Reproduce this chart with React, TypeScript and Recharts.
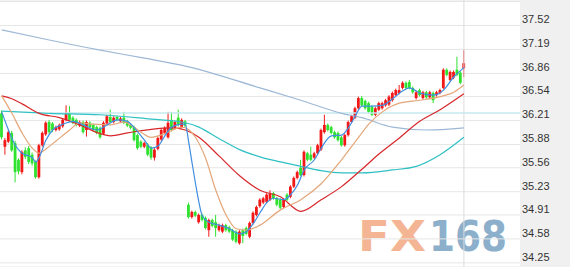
import React from "react";
import {
    ComposedChart,
    Bar,
    Line,
    XAxis,
    YAxis,
    CartesianGrid,
    ReferenceLine
} from "recharts";

// candles, oldest first (red = up, green = down)
const opens = [
    36.31, 35.85, 35.92, 36.04, 35.90, 35.67, 35.50, 35.80, 35.83, 35.74,
    35.64, 35.43, 35.87, 36.02, 36.19, 36.17, 36.08, 36.09, 36.13, 36.22,
    36.32, 36.25, 36.22, 36.14, 36.19, 36.08, 36.18, 36.15, 36.12, 36.11,
    36.03, 36.17, 36.26, 36.19, 36.26, 36.20, 36.25, 36.20, 36.15, 36.12,
    36.01, 35.92, 35.85, 35.88, 35.84, 35.70, 35.82, 35.95, 36.04, 35.98,
    36.22, 36.11, 36.25, 36.12, 36.20, 35.05, 34.88, 34.95, 34.81, 34.91,
    34.87, 34.70, 34.84, 34.81, 34.70, 34.68, 34.77, 34.74, 34.70, 34.68,
    34.52, 34.70, 34.73, 34.61, 34.80, 34.91, 35.03, 35.08, 35.09, 35.12,
    35.21, 35.14, 35.12, 35.02, 35.19, 35.16, 35.30, 35.42, 35.56, 35.46,
    35.76, 35.74, 35.70, 35.76, 35.81, 36.05, 36.15, 36.12, 36.05, 36.04,
    35.98, 35.87, 36.01, 36.19, 36.25, 36.38, 36.52, 36.48, 36.45, 36.40,
    36.29, 36.36, 36.38, 36.42, 36.43, 36.49, 36.56, 36.59, 36.66, 36.73,
    36.74, 36.66, 36.52, 36.63, 36.52, 36.60, 36.53, 36.59, 36.56, 36.59,
    36.66, 36.91, 36.77, 36.80, 36.91, 36.87, 36.93
];
const highs = [
    36.35, 35.97, 36.08, 36.07, 35.93, 35.69, 35.80, 35.84, 35.86, 35.77,
    35.66, 35.89, 36.06, 36.20, 36.22, 36.19, 36.14, 36.17, 36.24, 36.42,
    36.41, 36.27, 36.24, 36.21, 36.21, 36.21, 36.20, 36.17, 36.14, 36.13,
    36.20, 36.29, 36.36, 36.27, 36.28, 36.26, 36.33, 36.22, 36.17, 36.14,
    36.03, 35.94, 35.92, 35.90, 35.86, 35.83, 35.99, 36.10, 36.13, 36.33,
    36.33, 36.21, 36.36, 36.24, 36.22, 35.08, 34.97, 34.97, 34.93, 34.93,
    34.89, 34.86, 34.86, 34.91, 34.79, 34.79, 34.79, 34.76, 34.72, 34.70,
    34.70, 34.72, 34.75, 34.82, 34.96, 35.04, 35.14, 35.16, 35.21, 35.25,
    35.23, 35.16, 35.14, 35.14, 35.21, 35.32, 35.44, 35.52, 35.67, 35.80,
    35.78, 35.85, 35.78, 35.89, 36.10, 36.29, 36.17, 36.14, 36.07, 36.06,
    36.00, 36.03, 36.21, 36.29, 36.40, 36.54, 36.55, 36.50, 36.47, 36.42,
    36.40, 36.47, 36.47, 36.51, 36.56, 36.61, 36.65, 36.70, 36.75, 36.75,
    36.77, 36.68, 36.62, 36.65, 36.62, 36.62, 36.62, 36.61, 36.62, 36.65,
    36.93, 36.93, 36.90, 36.90, 37.09, 36.89, 37.18
];
const lows = [
    35.95, 35.74, 35.90, 35.78, 35.36, 35.47, 35.47, 35.68, 35.61, 35.59,
    35.41, 35.41, 35.85, 36.00, 36.03, 36.05, 36.06, 36.07, 36.11, 36.20,
    36.20, 36.16, 36.13, 36.12, 36.03, 35.99, 36.10, 36.06, 36.02, 35.96,
    36.01, 36.15, 36.17, 36.17, 36.20, 36.18, 36.16, 36.12, 36.09, 35.92,
    35.81, 35.83, 35.83, 35.72, 35.67, 35.66, 35.80, 35.93, 36.02, 35.96,
    36.06, 36.09, 36.13, 36.10, 36.12, 34.86, 34.86, 34.88, 34.79, 34.82,
    34.71, 34.61, 34.74, 34.61, 34.68, 34.66, 34.68, 34.66, 34.55, 34.52,
    34.50, 34.52, 34.63, 34.59, 34.78, 34.89, 35.01, 35.06, 35.07, 35.10,
    35.12, 35.03, 34.99, 35.00, 35.10, 35.14, 35.28, 35.40, 35.44, 35.44,
    35.65, 35.65, 35.68, 35.74, 35.79, 36.03, 36.06, 36.02, 35.96, 35.92,
    35.85, 35.85, 35.99, 36.17, 36.23, 36.36, 36.40, 36.36, 36.31, 36.27,
    36.27, 36.34, 36.36, 36.40, 36.41, 36.47, 36.54, 36.57, 36.64, 36.64,
    36.64, 36.58, 36.50, 36.54, 36.50, 36.51, 36.51, 36.45, 36.54, 36.57,
    36.64, 36.82, 36.75, 36.78, 36.82, 36.71, 36.81
];
const closes = [
    35.98, 35.94, 36.05, 35.80, 35.50, 35.51, 35.78, 35.71, 35.64, 35.62,
    35.43, 35.87, 36.04, 36.18, 36.05, 36.08, 36.12, 36.15, 36.22, 36.32,
    36.22, 36.18, 36.15, 36.19, 36.05, 36.19, 36.12, 36.08, 36.04, 35.98,
    36.18, 36.27, 36.19, 36.25, 36.22, 36.24, 36.18, 36.14, 36.11, 35.94,
    35.83, 35.85, 35.90, 35.74, 35.70, 35.81, 35.97, 36.08, 36.11, 36.18,
    36.08, 36.19, 36.15, 36.22, 36.14, 34.88, 34.95, 34.90, 34.91, 34.84,
    34.73, 34.84, 34.76, 34.73, 34.77, 34.77, 34.70, 34.68, 34.57, 34.54,
    34.68, 34.62, 34.65, 34.80, 34.94, 35.02, 35.12, 35.14, 35.19, 35.21,
    35.14, 35.05, 35.01, 35.12, 35.12, 35.30, 35.42, 35.50, 35.46, 35.78,
    35.67, 35.67, 35.76, 35.87, 36.08, 36.15, 36.08, 36.04, 35.98, 35.94,
    35.87, 36.01, 36.19, 36.27, 36.38, 36.52, 36.42, 36.38, 36.33, 36.29,
    36.38, 36.45, 36.45, 36.49, 36.54, 36.59, 36.63, 36.63, 36.73, 36.66,
    36.66, 36.60, 36.60, 36.56, 36.60, 36.53, 36.60, 36.49, 36.60, 36.63,
    36.91, 36.84, 36.88, 36.88, 36.84, 36.73, 37.00
];

// moving averages as [candle index, value]
const ma5 = [
    [0, 36.33], [2, 36.08], [4, 35.87], [6, 35.76], [9, 35.70], [10, 35.64], [11, 35.70],
    [13, 35.94], [15, 36.08], [18, 36.16], [21, 36.2], [24, 36.15], [28, 36.08], [31, 36.15],
    [34, 36.22], [37, 36.2], [39, 36.11], [42, 35.94], [44, 35.83], [46, 35.86], [48, 36.0],
    [50, 36.12], [53, 36.16], [54, 36.16], [55, 35.92], [56, 35.63], [57, 35.35], [58, 35.09],
    [59, 34.9], [61, 34.81], [64, 34.77], [67, 34.72], [70, 34.65], [72, 34.68], [74, 34.79],
    [76, 34.94], [78, 35.08], [80, 35.14], [83, 35.12], [85, 35.19], [87, 35.32], [89, 35.53],
    [92, 35.67], [94, 35.83], [97, 36.0], [100, 36.01], [102, 36.11], [104, 36.27], [106, 36.41],
    [109, 36.41], [112, 36.42], [115, 36.51], [118, 36.62], [120, 36.66], [123, 36.59],
    [127, 36.56], [130, 36.63], [133, 36.81], [136, 36.94]
];
const ma10 = [
    [0, 36.55], [3, 36.31], [6, 36.04], [9, 35.83], [11, 35.76], [13, 35.82], [16, 35.93],
    [20, 36.08], [23, 36.18], [27, 36.16], [32, 36.15], [36, 36.19], [41, 36.05], [44, 35.98],
    [48, 36.03], [53, 36.12], [57, 35.98], [60, 35.69], [63, 35.25], [66, 34.91], [69, 34.72],
    [72, 34.7], [76, 34.77], [82, 34.98], [88, 35.12], [94, 35.34], [100, 35.67], [105, 35.98],
    [108, 36.16], [112, 36.33], [117, 36.45], [123, 36.49], [129, 36.54], [133, 36.6], [136, 36.7]
];
const ma20 = [
    [0, 36.55], [3, 36.51], [6, 36.44], [11, 36.31], [17, 36.25], [23, 36.15], [29, 36.03],
    [32, 36.0], [37, 36.04], [44, 36.09], [50, 36.11], [54, 36.08], [58, 35.98], [64, 35.72],
    [70, 35.45], [76, 35.25], [82, 35.16], [88, 34.96], [94, 35.12], [100, 35.3], [106, 35.54],
    [111, 35.75], [117, 35.97], [123, 36.2], [129, 36.36], [136, 36.58]
];
const ma30 = [
    [0, 36.34], [14, 36.31], [29, 36.29], [44, 36.23], [53, 36.19], [58, 36.12], [64, 35.96],
    [70, 35.81], [76, 35.71], [82, 35.64], [88, 35.58], [94, 35.52], [100, 35.49], [106, 35.49],
    [115, 35.53], [122, 35.58], [129, 35.74], [136, 35.98]
];
const ma60 = [
    [0, 37.46], [14, 37.32], [29, 37.18], [42, 37.07], [55, 36.95], [76, 36.66], [88, 36.49],
    [100, 36.31], [106, 36.25], [115, 36.12], [125, 36.08], [136, 36.11]
];

const priceTicks = [37.85, 37.52, 37.19, 36.86, 36.54, 36.21, 35.88, 35.56, 35.23, 34.91, 34.58, 34.25];
const crossPrice = 36.315;
const slots = 153; // candles plus empty space up to the axis

const pick = (pts: number[][], i: number) => {
    const p = pts.find(q => q[0] === i);
    return p ? p[1] : null;
};

const rows = Array.from({ length: slots }, (_, i) => ({
    i,
    range: i < closes.length ? [lows[i], highs[i]] : null,
    open: opens[i],
    close: closes[i],
    ma5: pick(ma5, i),
    ma10: pick(ma10, i),
    ma20: pick(ma20, i),
    ma30: pick(ma30, i),
    ma60: pick(ma60, i)
}));

const Candle = (props: any) => {
    const { x, y, width, height, payload } = props;
    if (!payload || !payload.range) return <g />;
    const [lo, hi] = payload.range;
    const top = Math.min(y, y + height);
    const h = Math.abs(height);
    const k = hi > lo ? h / (hi - lo) : 0;
    const yOf = (v: number) => top + (hi - v) * k;
    const up = payload.close >= payload.open;
    const color = up ? "#f21818" : "#2fe22f";
    const bTop = yOf(Math.max(payload.open, payload.close));
    const bBot = yOf(Math.min(payload.open, payload.close));
    const cx = x + width / 2;
    const bw = Math.max(1, width - 0.2);
    return (
        <g>
            <line x1={cx} x2={cx} y1={top} y2={top + h} stroke={color} strokeWidth={1} />
            <rect x={cx - bw / 2} y={bTop} width={bw} height={Math.max(1, bBot - bTop)} fill={color} />
        </g>
    );
};

// no point markers on the averages
const NoDot = (props: any) => <g key={`nd-${props.index}`} />;

const PriceTick = (props: any) => {
    const { x, y, payload } = props;
    if (payload.value > 37.7) return <g />;
    return (
        <text x={x - 6} y={y - 6} dy="0.35em" textAnchor="start" fill="#333"
            fontSize={11} fontFamily="'Liberation Sans', Arial, sans-serif">
            {payload.value.toFixed(2)}
        </text>
    );
};

const App: React.FC = () => {
    return (
        <div style={{ position: "relative", width: 570, height: 267, background: "#fff", overflow: "hidden" }}>
            <style>{"body{margin:0}"}</style>
            <div style={{ position: "absolute", left: 520, top: 0, width: 50, height: 267, background: "#f0f0f0" }} />
            <svg width={570} height={267} style={{ position: "absolute", left: 0, top: 0 }}>
                <text x={358} y={251} fontSize={42} fontWeight="bold" fontFamily="'DejaVu Sans', sans-serif"
                    fill="#f2a982" opacity={0.85} textLength={68} lengthAdjust="spacingAndGlyphs">FX</text>
                <text x={429} y={251} fontSize={42} fontWeight="bold" fontFamily="'DejaVu Sans', sans-serif"
                    fill="#79a2c2" opacity={0.85} textLength={78} lengthAdjust="spacingAndGlyphs">168</text>
            </svg>
            <div style={{ position: "absolute", left: 0, top: 0 }}>
                <ComposedChart width={570} height={267} data={rows} barCategoryGap={0}
                    margin={{ top: 0, right: 0, left: 0, bottom: 0 }}>
                    <CartesianGrid vertical={false} stroke="#e6e6e6" />
                    <XAxis dataKey="i" hide />
                    <YAxis orientation="right" width={50} type="number" domain={[34.193, 37.871]}
                        ticks={priceTicks} interval={0} allowDataOverflow axisLine={false}
                        tickLine={false} tick={<PriceTick />} />
                    <ReferenceLine y={crossPrice} stroke="#c6eaf0" strokeWidth={1.5}
                        shape={(p: any) => (
                            <line x1={p.x1} y1={p.y1} x2={p.x2 + 50} y2={p.y2} stroke="#c6eaf0" strokeWidth={1.5} />
                        )} />
                    <ReferenceLine x={closes.length - 1} stroke="#dcdcdc" />
                    <Bar dataKey="range" shape={<Candle />} isAnimationActive={false} />
                    <Line dataKey="ma60" type="monotone" stroke="#9db8d6" strokeWidth={1.2} dot={NoDot} activeDot={false} connectNulls isAnimationActive={false} />
                    <Line dataKey="ma30" type="monotone" stroke="#2fc0c4" strokeWidth={1.2} dot={NoDot} activeDot={false} connectNulls isAnimationActive={false} />
                    <Line dataKey="ma20" type="monotone" stroke="#d8262a" strokeWidth={1.2} dot={NoDot} activeDot={false} connectNulls isAnimationActive={false} />
                    <Line dataKey="ma10" type="monotone" stroke="#e4a678" strokeWidth={1.2} dot={NoDot} activeDot={false} connectNulls isAnimationActive={false} />
                    <Line dataKey="ma5" type="monotone" stroke="#3f8ee0" strokeWidth={1.2} dot={NoDot} activeDot={false} connectNulls isAnimationActive={false} />
                </ComposedChart>
            </div>
        </div>
    );
};

export default App;
